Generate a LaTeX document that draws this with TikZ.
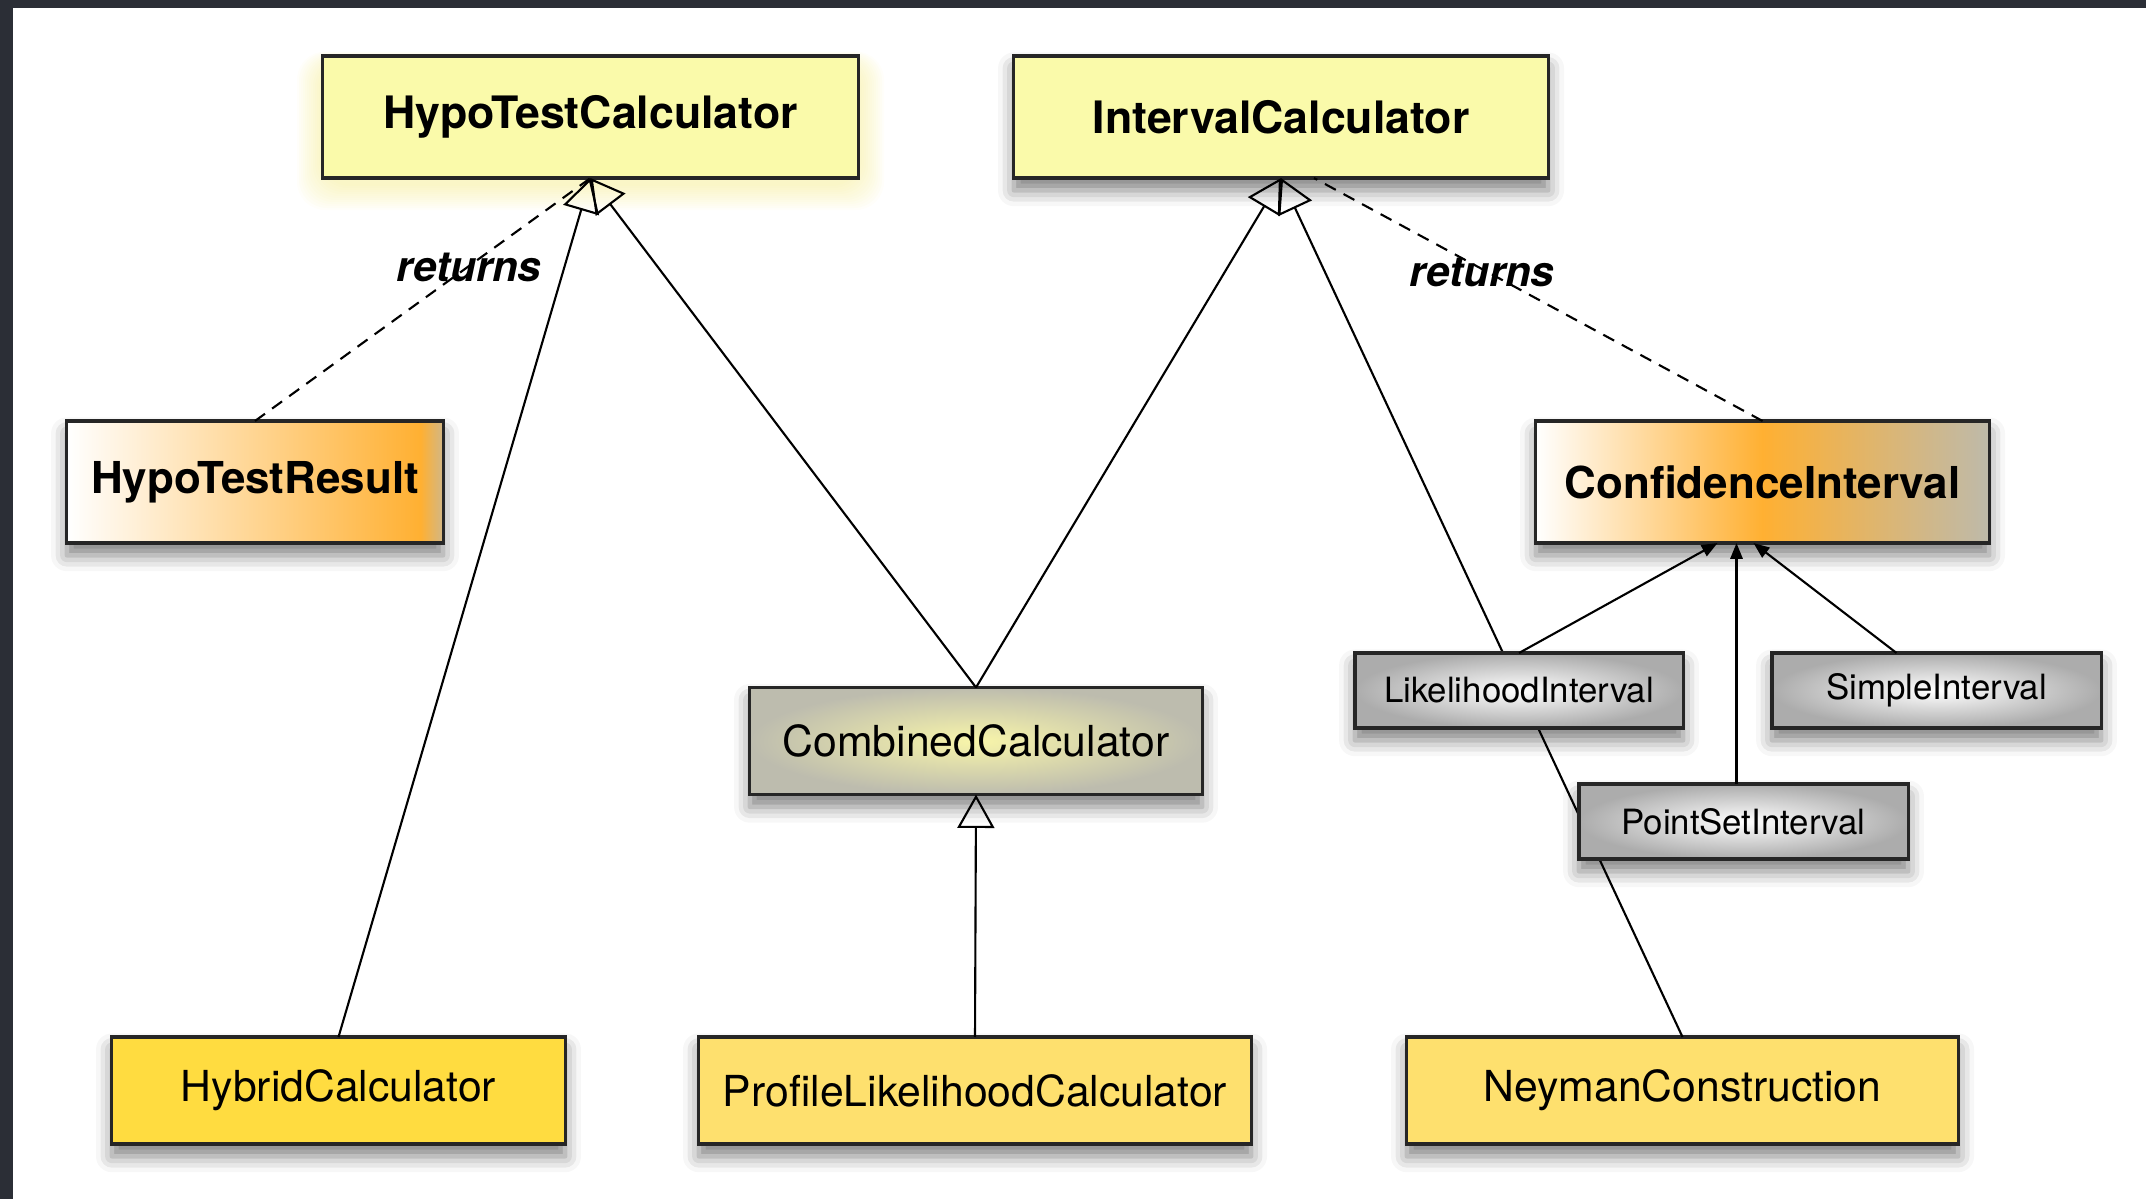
\documentclass[tikz,border=0pt]{standalone}
\usepackage{fontspec}
\setmainfont{TeX Gyre Heros}
\usetikzlibrary{arrows.meta,shadows.blur,calc}

\definecolor{framedark}{HTML}{2B2E36}
\definecolor{calcyellow}{HTML}{FAFAAA}
\definecolor{glowyellow}{HTML}{F2E66A}
\definecolor{hybridyellow}{HTML}{FFDC40}
\definecolor{implyellow}{HTML}{FEE06E}
\definecolor{resorange}{HTML}{FFB032}
\definecolor{resgray}{HTML}{BEBAAA}
\definecolor{combyellow}{HTML}{F8F5AA}
\definecolor{combgray}{HTML}{BDBCAE}
\definecolor{ivgray}{HTML}{ACACAC}

\pgfdeclarehorizontalshading{resultshade}{100bp}{color(0bp)=(white); color(25bp)=(white); color(72bp)=(resorange); color(75bp)=(resgray!70!resorange); color(100bp)=(resgray)}
\pgfdeclarehorizontalshading{confshade}{100bp}{color(0bp)=(white); color(25bp)=(white); color(50bp)=(resorange); color(75bp)=(resgray); color(100bp)=(resgray)}

\begin{document}
\begin{tikzpicture}[x=0.01cm, y=-0.01cm,
  box/.style={draw=black!85, line width=0.9pt, inner sep=0pt, outer sep=0pt},
  shadowed/.style={blur shadow={shadow xshift=0pt, shadow yshift=-3.5pt, shadow blur radius=4.5pt, shadow opacity=50}},
  iface/.style={box, fill=calcyellow, font=\fontsize{12.7}{15}\selectfont\bfseries},
  result/.style={box, shadowed, font=\fontsize{12.5}{15}\selectfont\bfseries},
  impl/.style={box, shadowed, font=\fontsize{12.15}{14}\selectfont},
  ivbox/.style={box, shadowed, shading=radial, inner color=white, outer color=ivgray, font=\fontsize{9.9}{12}\selectfont},
  inherit/.style={line width=0.6pt, -{Triangle[open, length=9.5pt, width=10.5pt, line width=0.6pt]}},
  returns/.style={line width=0.6pt, dash pattern=on 3.5pt off 2.5pt},
  realize/.style={line width=0.6pt, -{Triangle[length=4.5pt, width=3.5pt]}},
  lbl/.style={font=\fontsize{12}{14}\selectfont\bfseries\itshape}]
\newcommand\boxHbig{1.22cm}
\newcommand\boxHmid{1.07cm}
\newcommand\boxHsmall{0.75cm}

\useasboundingbox (0,0) rectangle (2146,1199);
\fill[framedark] (0,0) rectangle (2146,8);
\fill[framedark] (0,0) rectangle (13,1199);

% glow under HypoTestCalculator
\foreach \g in {2,4,...,26}{
\fill[glowyellow, opacity=0.035, rounded corners=8pt] (323-\g,56-0.4*\g+6) rectangle (858+\g,178+\g+6);
}

\node[iface, minimum width=5.35cm, minimum height=\boxHbig] (htc) at (590.5,117) {HypoTestCalculator};
\node[iface, shadowed, minimum width=5.34cm, minimum height=\boxHbig] (ic) at (1281,117) {IntervalCalculator};

\node[result, shading=resultshade, minimum width=3.76cm, minimum height=\boxHbig] (htr) at (255,482) {HypoTestResult};
\node[result, shading=confshade, minimum width=4.53cm, minimum height=\boxHbig] (ci) at (1762.5,482) {ConfidenceInterval};

\node[impl, shading=radial, inner color=combyellow, outer color=combgray, minimum width=4.52cm, minimum height=\boxHmid] (cc) at (976,741) {CombinedCalculator};

\node[impl, fill=hybridyellow, minimum width=4.53cm, minimum height=\boxHmid] (hc) at (338.5,1090.5) {HybridCalculator};
\node[impl, fill=implyellow, minimum width=5.52cm, minimum height=\boxHmid] (plc) at (975,1090.5) {ProfileLikelihoodCalculator};
\node[impl, fill=implyellow, minimum width=5.51cm, minimum height=\boxHmid] (nc) at (1682.5,1090.5) {NeymanConstruction};

% inheritance
\draw[inherit] (hc.north) -- (htc.south);
\draw[inherit] (cc.north) -- (htc.south);
\draw[inherit] (cc.north) -- (ic.south);
\draw[inherit] (nc.north) -- (ic.south);
\draw[inherit] (plc.north) -- (cc.south);

% returns
\draw[returns] (htr.north) -- (htc.south);
\draw[returns] (ci.north) -- ($(ic.south)+(33,0)$);
\node[lbl] (rethtc) at (469,267) {returns};
\node[lbl] (retic) at (1482,272) {returns};

% intervals sit on top of the NeymanConstruction line
\node[ivbox, minimum width=3.28cm, minimum height=\boxHsmall] (li) at (1519,690.5) {LikelihoodInterval};
\node[ivbox, minimum width=3.29cm, minimum height=\boxHsmall] (si) at (1936.5,690.5) {SimpleInterval};
\node[ivbox, minimum width=3.29cm, minimum height=\boxHsmall] (psi) at (1743.5,821.5) {PointSetInterval};

\draw[realize] (li.north) -- ($(ci.south)+(-45,0)$);
\draw[realize] ($(psi.north)+(-7,0)$) -- ($(ci.south)+(-26,0)$);
\draw[realize] ($(si.north)+(-40,0)$) -- ($(ci.south)+(-9,0)$);
%\draw[realize] (si.north) -- (ci.south);

\end{tikzpicture}
\end{document}
